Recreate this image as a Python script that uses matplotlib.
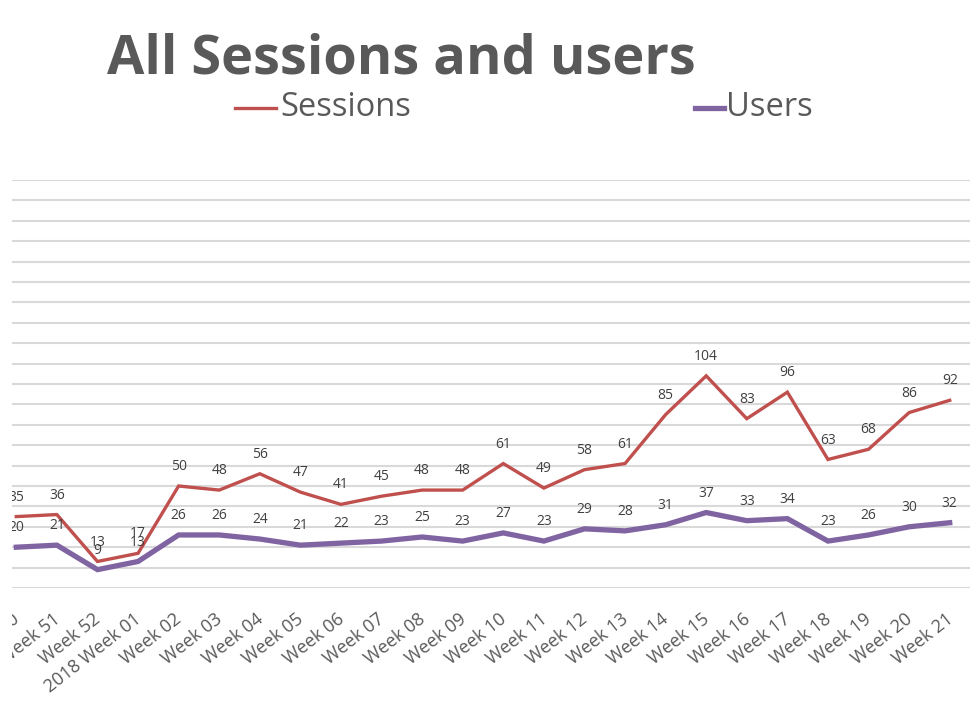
import matplotlib
matplotlib.use("Agg")
import matplotlib.pyplot as plt
from matplotlib.lines import Line2D
from matplotlib.patches import Rectangle
from matplotlib.transforms import ScaledTranslation

weeks = ["Week 50", "Week 51", "Week 52", "2018 Week 01", "Week 02", "Week 03",
         "Week 04", "Week 05", "Week 06", "Week 07", "Week 08", "Week 09",
         "Week 10", "Week 11", "Week 12", "Week 13", "Week 14", "Week 15",
         "Week 16", "Week 17", "Week 18", "Week 19", "Week 20", "Week 21"]
sessions = [35, 36, 13, 17, 50, 48, 56, 47, 41, 45, 48, 48,
            61, 49, 58, 61, 85, 104, 83, 96, 63, 68, 86, 92]
users = [20, 21, 9, 13, 26, 26, 24, 21, 22, 23, 25, 23,
         27, 23, 29, 28, 31, 37, 33, 34, 23, 26, 30, 32]

RED = "#C0504D"
PURPLE = "#8064A2"
GRID = "#D9D9D9"
TEXT = "#595959"
LABEL = "#404040"
FONT = "Open Sans"

W, H = 975, 709
fig = plt.figure(figsize=(W / 100, H / 100), dpi=100)
fig.patch.set_facecolor("white")

# plot area in pixel coordinates (left edge runs past the figure border)
left_px, right_px, top_px, bottom_px = -4, 970, 180, 588
ax = fig.add_axes([left_px / W, (H - bottom_px) / H,
                   (right_px - left_px) / W, (bottom_px - top_px) / H])

x = list(range(len(weeks)))
ax.plot(x, sessions, color=RED, lw=2.4, solid_joinstyle="miter", zorder=3)
ax.plot(x, users, color=PURPLE, lw=3.8, solid_joinstyle="miter", zorder=3)

for series in (sessions, users):
    for xi, v in zip(x, series):
        ax.annotate(str(v), (xi, v), xytext=(0, 14), textcoords="offset points",
                    ha="center", va="center", fontsize=10, color=LABEL,
                    family=FONT, zorder=4)

ax.set_xlim(-0.5, len(weeks) - 0.5)
ax.set_ylim(0, 200)
ax.set_yticks(range(0, 201, 10))
ax.yaxis.grid(True, color=GRID, lw=1.5)
ax.set_axisbelow(True)
ax.tick_params(axis="y", left=False, labelleft=False)
ax.tick_params(axis="x", length=0, pad=0)
for s in ax.spines.values():
    s.set_visible(False)

ax.set_xticks(x)
ax.set_xticklabels(weeks, rotation=38, ha="right", va="center",
                   rotation_mode="anchor", fontsize=13, color=TEXT,
                   family=FONT)
offset = ScaledTranslation(1 / 100, -29 / 100, fig.dpi_scale_trans)
for lbl in ax.get_xticklabels():
    lbl.set_transform(lbl.get_transform() + offset)

# title and series key
fig.text(107 / W, 1 - 60 / H, "All Sessions and users", fontsize=39,
         fontweight="bold", color=TEXT, family=FONT, ha="left", va="center")

fig.add_artist(Line2D([235 / W, 276 / W], [1 - 108 / H] * 2, color=RED, lw=2.4))
fig.text(280 / W, 1 - 108 / H, "Sessions", fontsize=23.5, color=TEXT,
         family=FONT, ha="left", va="center")
fig.add_artist(Line2D([695 / W, 724 / W], [1 - 108 / H] * 2, color=PURPLE, lw=3.8))
fig.text(726 / W, 1 - 108 / H, "Users", fontsize=23.5, color=TEXT,
         family=FONT, ha="left", va="center")

# blank strip along the left border
fig.add_artist(Rectangle((0, 0), 12 / W, 1, transform=fig.transFigure,
                         facecolor="white", edgecolor="none", zorder=10))

fig.savefig("out.png", dpi=100, facecolor="white")
